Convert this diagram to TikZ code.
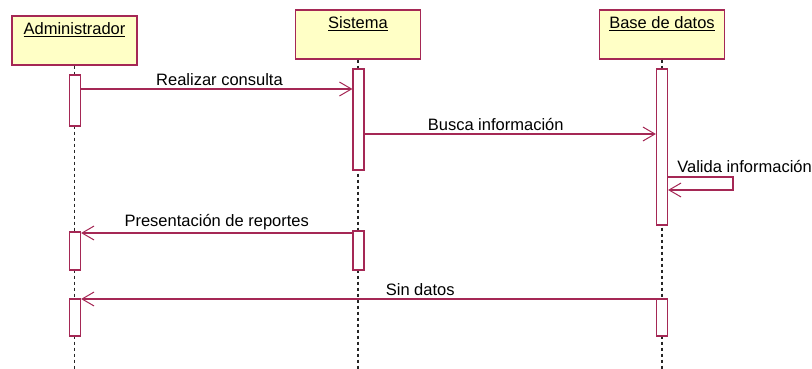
\documentclass[tikz,border=0pt]{standalone}
\usepackage{fontspec}
\setmainfont{Liberation Sans}
\usepackage{tikz}
\usetikzlibrary{arrows.meta,positioning,calc}
\definecolor{roseline}{RGB}{165,40,85}
\definecolor{rosefill}{RGB}{255,255,198}
\tikzset{
  objbox/.style  = {draw=roseline, fill=rosefill, line width=1.2pt, rectangle,
                    minimum width=125pt, minimum height=49pt, inner sep=0pt},
  objtext/.style = {anchor=north, inner sep=0pt, yshift=-7pt},
  act/.style     = {draw=roseline, fill=white, line width=1.2pt, rectangle,
                    minimum width=11pt, inner sep=0pt},
  lifeline/.style = {draw=black!85, line width=1.3pt, dash pattern=on 3pt off 3pt},
  msg/.style     = {draw=roseline, line width=1.1pt,
                    -{Straight Barb[length=12pt,width=14pt,line width=1pt]}},
  msgtext/.style = {above, inner sep=3pt, text=black}
}

\begin{document}
\begin{tikzpicture}[x=1pt, y=-1pt, font=\fontsize{16.5}{20}\selectfont]
\useasboundingbox (0,0) rectangle (812,369);

% the three objects of the sequence
\node[objbox] (admin) at (74.5,40.5) {};
\node[objbox] (sist)  at (358,34.5) {};
\node[objbox] (bd)    at (662,34.5) {};
\node[objtext] (tadmin) at (admin.north) {\underline{Administrador}};
\node[objtext] (tsist)  at (sist.north)  {\underline{Sistema}};
\node[objtext] (tbd)    at (bd.north)    {\underline{Base de datos}};

% lifelines down to the bottom
\coordinate (bottom) at (0,369);
\foreach \obj in {admin,sist,bd}
  \draw[lifeline] (\obj.south) -- (\obj.south |- bottom);

% activation bars, drawn over the lifelines
\node[act, minimum height=51pt] (a1) at (75,100.5) {};
\node[act, minimum height=38pt] (a2) at (75,251) {};
\node[act, minimum height=37pt] (a3) at (75,317.5) {};
\node[act, minimum height=101pt] (s1) at (358.5,119.5) {};
\node[act, minimum height=39pt] (s2) at (358.5,250.5) {};
\node[act, minimum height=156pt] (b1) at (662,147) {};
\node[act, minimum height=37pt] (b2) at (662,317.5) {};

% rows of the messages
\coordinate (m1) at (0,89);
\coordinate (m2) at (0,134);
\coordinate (m3) at (0,177);
\coordinate (m3b) at (0,190);
\coordinate (m4) at (0,233);
\coordinate (m5) at (0,299);
\coordinate (loop) at (733,0);

% messages
\draw[msg] (a1.east |- m1) -- (s1.west |- m1)
  node[msgtext, pos=0.51] {Realizar consulta};
\draw[msg] (s1.east |- m2) -- (b1.west |- m2)
  node[msgtext, pos=0.45] {Busca información};
\draw[msg] (b1.east |- m3) -- (loop |- m3) -- (loop |- m3b) -- (b1.east |- m3b);
\node[anchor=south west, inner sep=0pt] (tval) at ([xshift=9pt,yshift=4pt]b1.east |- m3)
  {Valida información};
\draw[msg] (s2.west |- m4) -- (a2.east |- m4)
  node[msgtext, pos=0.5] {Presentación de reportes};
\draw[msg] (b2.west |- m5) -- (a3.east |- m5)
  node[msgtext, pos=0.41] {Sin datos};
\end{tikzpicture}
\end{document}
